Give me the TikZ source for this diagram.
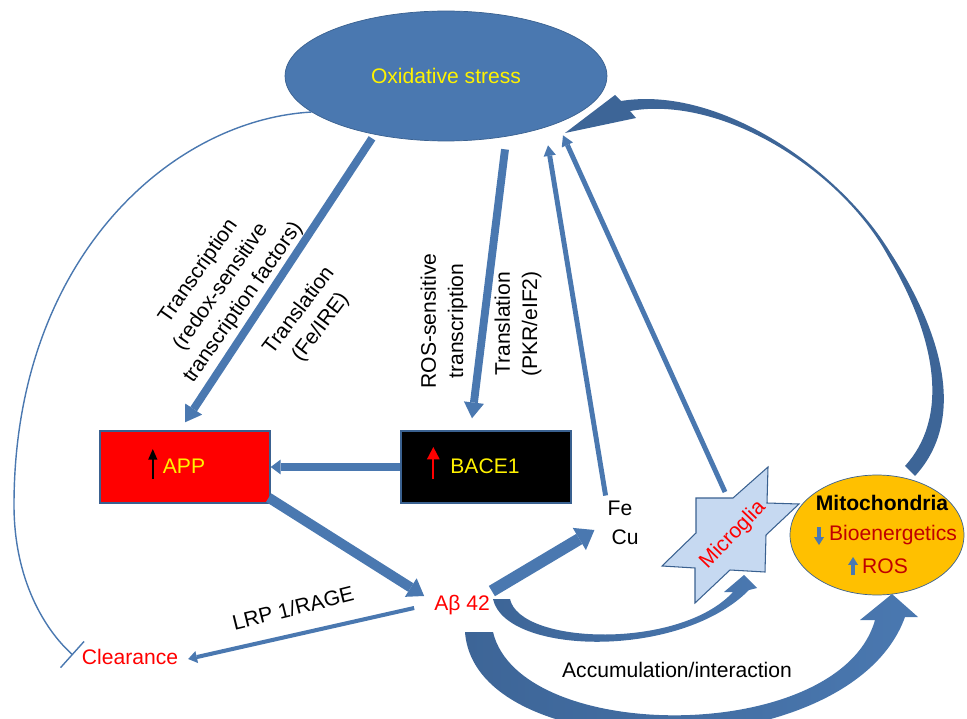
\documentclass[tikz,border=0pt]{standalone}
\usepackage{fontspec}
\setmainfont{Liberation Sans}
\usetikzlibrary{arrows.meta, shapes.geometric, calc}

\definecolor{oxblue}{HTML}{4A78B0}
\definecolor{edgeblue}{HTML}{3A6190}
\definecolor{darkblue}{HTML}{3D6597}
\definecolor{starblue}{HTML}{C6D9F1}
\definecolor{mitoyellow}{HTML}{FFC000}
\definecolor{darkred}{HTML}{C00000}

\tikzset{
	every node/.style={font=\fontsize{12}{15.5}\selectfont, inner sep=1pt},
	box/.style={draw=edgeblue, line width=0.8pt, minimum width=3.4cm, minimum height=1.44cm},
	blk/.style n args={3}{draw=oxblue, line width=#1, -{Triangle[width=#2, length=#3, line width=0pt]}},
}

\begin{document}
\begin{tikzpicture}[x=0.02cm, y=-0.02cm]

	\useasboundingbox (0,0) rectangle (967,719);

	% oxidative stress
	\node[ellipse, fill=oxblue, draw=edgeblue, minimum width=6.44cm, minimum height=2.6cm, text=yellow] (ox) at (446,76) {Oxidative stress};

	% APP and BACE1
	\node[box, fill=red] (app) at (185,467) {};
	\node[text=yellow] (apptxt) at (184,466) {APP};
	\node[box, fill=black] (bace) at (486,467) {};
	\node[text=yellow] (bacetxt) at (485,466) {BACE1};
	\draw[black, line width=0.8pt, -{Triangle[width=5pt, length=6pt]}] ($(apptxt.west)+(-8,13)$) -- ($(apptxt.west)+(-8,-17)$);
	\draw[red, line width=1pt, -{Triangle[width=7pt, length=7pt]}] ($(bacetxt.west)+(-15,13)$) -- ($(bacetxt.west)+(-15,-19)$);

	\node[text=red] (ab) at (462,605) {Aβ 42};
	\node[text=red] (clr) at (130,657) {Clearance};
	\node (fe) at (620,508) {Fe};
	\node (cu) at (625,537) {Cu};

	% microglia
	\draw[fill=starblue, draw=edgeblue, line width=0.6pt] (768,467) -- (733,498) -- (696,498) -- (696,533) -- (662,566) -- (695,568) -- (695,603) -- (730,570) -- (765,572) -- (766,535) -- (799,504) -- (767,503) -- cycle;
	\node[text=red, rotate=46] (mic) at (733,535) {Microglia};

	% mitochondria
	\node[ellipse, fill=mitoyellow, draw=edgeblue, minimum width=3.48cm, minimum height=2.4cm] (mito) at (877,535) {};
	\node[font=\fontsize{12}{15.5}\selectfont\bfseries] (mitotxt) at (882,503) {Mitochondria};
	\node[text=darkred] (bio) at (893,535) {Bioenergetics};
	\node[text=darkred] (ros) at (885,566) {ROS};
	\draw[blk={2pt}{5.7pt}{4.5pt}] ($(bio.west)+(-8,-8)$) -- ($(bio.west)+(-8,10)$);
	\draw[blk={2pt}{5.7pt}{4.5pt}] ($(ros.west)+(-7,9)$) -- ($(ros.west)+(-7,-9)$);

	% straight arrows
	\draw[blk={4.5pt}{11.5pt}{9pt}] ($(ox.south)+(-74,-3)$) -- ($(app.north)+(0,-8)$);
	\draw[blk={4.5pt}{11.5pt}{9pt}] ($(ox.south)+(59,8)$) -- ($(bace.north)+(-14,-12)$);
	\draw[blk={4.2pt}{8.5pt}{5.7pt}] (bace.west) -- (app.east);
	\draw[blk={5.7pt}{12.5pt}{9pt}] ($(app.south east)+(-2,-6)$) -- ($(ab.west)+(-8,-9)$);
	\draw[blk={6.8pt}{14.7pt}{10pt}] ($(ab.north east)+(0,-2)$) -- ($(cu.west)+(-15,-7)$);
	\draw[blk={2.3pt}{7pt}{5pt}] ($(ab.west)+(-18,3)$) -- ($(clr.east)+(8,2)$);
	\draw[blk={2.8pt}{7pt}{6pt}] ($(fe.north west)+(0,-3)$) -- ($(ox.south)+(102,4)$);
	\draw[blk={2.8pt}{7pt}{6pt}] ($(mic.center)+(-8,-43)$) -- ($(ox.south)+(117,-6)$);

	% clearance blocked
	\draw[oxblue, line width=0.8pt, -{Bar[width=20pt]}] (ox.195) .. controls (170,120) and (14,260) .. (14,505) .. controls (14,580) and (45,630) .. ($(clr.west)+(-7,-2)$);

	% curved arrows
	\fill[darkblue] (565,133) -- (615,95) -- (621,101) .. controls (720,85) and (840,170) .. (890,252) .. controls (950,345) and (962,425) .. (915,476) -- (905,466) .. controls (947,420) and (940,345) .. (888,256) .. controls (840,168) and (720,95) .. (630,111) -- (636,118) -- cycle;
	\shade[left color=darkblue, right color=oxblue] (493,599) .. controls (505,655) and (680,660) .. (749,590) -- (757,588) -- (744,575) -- (724,592) -- (733,592) .. controls (680,650) and (520,645) .. (510,599) -- cycle;
	\shade[left color=darkblue, right color=oxblue] (465,632) .. controls (475,770) and (850,770) .. (905,617) -- (918,617) -- (892,594) -- (860,620) -- (875,620) .. controls (840,745) and (520,745) .. (493,632) -- cycle;

	% labels
	\node[rotate=55, align=center] (trc) at (221,287) {Transcription\\(redox-sensitive\\transcription factors)};
	\node[rotate=53, align=center] (trl) at (310,319) {Translation\\(Fe/IRE)};
	\node[rotate=90, align=center] (rosl) at (444,321) {ROS-sensitive\\transcription};
	\node[rotate=90, align=center] (pkr) at (518,324) {Translation\\(PKR/eIF2)};
	\node[rotate=14] (lrp) at (293,608) {LRP 1/RAGE};
	\node (acc) at (677,670) {Accumulation/interaction};

\end{tikzpicture}
\end{document}
